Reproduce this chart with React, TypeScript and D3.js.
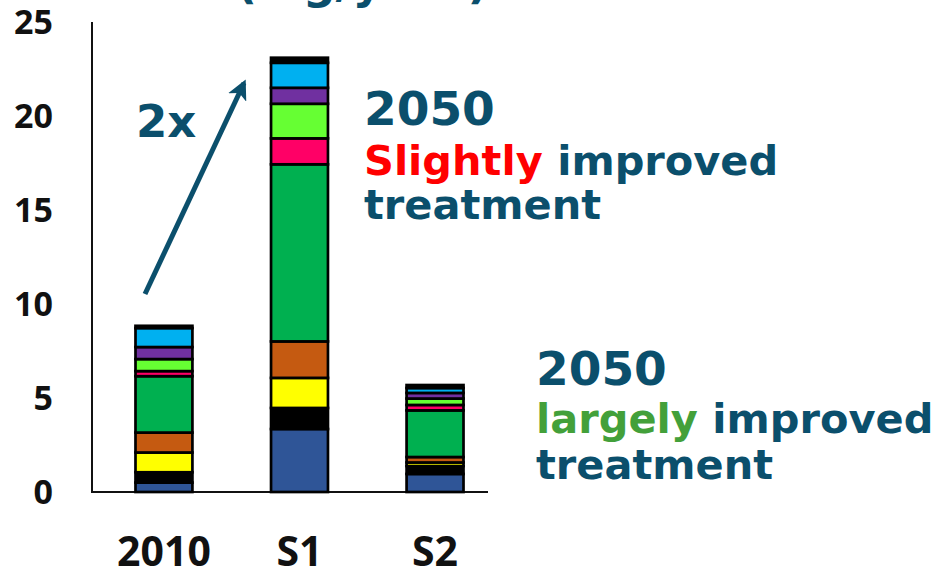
import * as d3 from "d3";
import { useEffect, useRef } from "react";

// scenarios on the x axis
const scenarios = ["2010", "S1", "S2"];

// stacked layers, bottom to top
const darkBlue = [0.5, 3.35, 0.96];
const black = [0.55, 1.12, 0.42];
const yellow = [1.05, 1.6, 0.19];
const orange = [1.06, 1.94, 0.29];
const green = [3.0, 9.42, 2.48];
const pink = [0.27, 1.38, 0.29];
const lightGreen = [0.64, 1.84, 0.34];
const purple = [0.64, 0.85, 0.3];
const lightBlue = [1.01, 1.33, 0.26];
const topBlack = [0.12, 0.27, 0.16];

const yTicks = [0, 5, 10, 15, 20, 25];

const layers = [
  { key: "darkBlue", values: darkBlue, color: "#2F5597" },
  { key: "black", values: black, color: "#000000" },
  { key: "yellow", values: yellow, color: "#FFFF00" },
  { key: "orange", values: orange, color: "#C55A11" },
  { key: "green", values: green, color: "#00B050" },
  { key: "pink", values: pink, color: "#FF0066" },
  { key: "lightGreen", values: lightGreen, color: "#66FF33" },
  { key: "purple", values: purple, color: "#7030A0" },
  { key: "lightBlue", values: lightBlue, color: "#00B0F0" },
  { key: "topBlack", values: topBlack, color: "#000000" },
];

const TEAL = "#0B4F6C";
const BOLD = "'DejaVu Sans', Verdana, sans-serif";
const TICK_FONT = "'Open Sans', Calibri, sans-serif";

export default function App() {
  const ref = useRef<SVGSVGElement | null>(null);

  useEffect(() => {
    if (!ref.current) return;
    const svg = d3.select(ref.current);
    svg.selectAll("*").remove();

    const width = 938;
    const height = 574;
    svg.attr("width", width).attr("height", height);

    const y = d3.scaleLinear().domain([0, 25]).range([492, 22]);
    const x = d3
      .scaleBand<string>()
      .domain(scenarios)
      .range([97, 502])
      .paddingInner(0.58)
      .paddingOuter(0.284);

    const table = scenarios.map((s, i) => {
      const row: { [k: string]: any } = { scenario: s };
      layers.forEach((l) => (row[l.key] = l.values[i]));
      return row;
    });
    const stacked = d3.stack<any>().keys(layers.map((l) => l.key))(table);

    // axes lines
    svg
      .append("line")
      .attr("x1", 92)
      .attr("x2", 92)
      .attr("y1", y(25))
      .attr("y2", y(0))
      .attr("stroke", "#111")
      .attr("stroke-width", 2);
    svg
      .append("line")
      .attr("x1", 91)
      .attr("x2", 488)
      .attr("y1", y(0))
      .attr("y2", y(0))
      .attr("stroke", "#111")
      .attr("stroke-width", 2);

    // bars
    svg
      .append("g")
      .selectAll("g")
      .data(stacked)
      .join("g")
      .attr("fill", (_d, i) => layers[i].color)
      .selectAll("rect")
      .data((d) => d)
      .join("rect")
      .attr("x", (d) => x(d.data.scenario)!)
      .attr("width", x.bandwidth())
      .attr("y", (d) => y(d[1]))
      .attr("height", (d) => y(d[0]) - y(d[1]))
      .attr("stroke", "#000")
      .attr("stroke-width", 2.7);

    // y tick labels
    svg
      .append("g")
      .selectAll("text")
      .data(yTicks)
      .join("text")
      .attr("x", 53)
      .attr("y", (d) => y(d))
      .attr("dy", "0.36em")
      .attr("text-anchor", "end")
      .style("font-family", TICK_FONT)
      .style("font-weight", 700)
      .style("font-size", "34px")
      .attr("fill", "#111")
      .text((d) => d);

    // x labels
    svg
      .append("g")
      .selectAll("text")
      .data(scenarios)
      .join("text")
      .attr("x", (d) => x(d)! + x.bandwidth() / 2)
      .attr("y", 566)
      .attr("text-anchor", "middle")
      .style("font-family", TICK_FONT)
      .style("font-weight", 700)
      .style("font-size", "41px")
      .attr("fill", "#111")
      .text((d) => d);

    // clipped title at the very top
    svg
      .append("text")
      .attr("x", 236)
      .attr("y", -2)
      .style("font-family", BOLD)
      .style("font-weight", 700)
      .style("font-size", "46px")
      .attr("fill", TEAL)
      .text("(Mg/year)");

    // arrow
    const defs = svg.append("defs");
    defs
      .append("marker")
      .attr("id", "arrowhead")
      .attr("viewBox", "0 0 10 10")
      .attr("refX", 8)
      .attr("refY", 5)
      .attr("markerWidth", 4)
      .attr("markerHeight", 4)
      .attr("orient", "auto")
      .append("path")
      .attr("d", "M0,0 L10,5 L0,10 L2.5,5 Z")
      .attr("fill", TEAL);
    svg
      .append("line")
      .attr("x1", 145)
      .attr("y1", 294)
      .attr("x2", 244)
      .attr("y2", 83)
      .attr("stroke", TEAL)
      .attr("stroke-width", 5)
      .attr("marker-end", "url(#arrowhead)");

    const label = (
      xPos: number,
      yPos: number,
      size: number,
      parts: [string, string][]
    ) => {
      const t = svg
        .append("text")
        .attr("x", xPos)
        .attr("y", yPos)
        .style("font-family", BOLD)
        .style("font-weight", 700)
        .style("font-size", size + "px");
      parts.forEach(([txt, col]) => t.append("tspan").attr("fill", col).text(txt));
    };

    label(136, 137, 45, [["2x", TEAL]]);

    label(364, 125, 47, [["2050", TEAL]]);
    label(364, 175, 41.5, [
      ["Slightly", "#FF0000"],
      [" improved", TEAL],
    ]);
    label(364, 219, 41.5, [["treatment", TEAL]]);

    label(536, 385, 47, [["2050", TEAL]]);
    label(536, 433, 41.5, [
      ["largely", "#43A03A"],
      [" improved", TEAL],
    ]);
    label(536, 479, 41.5, [["treatment", TEAL]]);
  }, []);

  return (
    <svg
      ref={ref}
      style={{ position: "absolute", left: 0, top: 0, background: "#fff" }}
    />
  );
}
